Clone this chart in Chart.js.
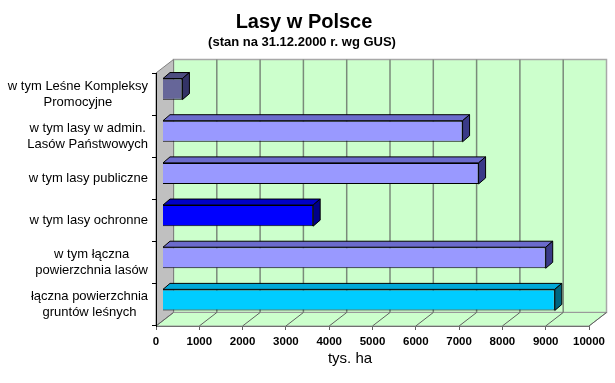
<!DOCTYPE html>
<html>
<head>
<meta charset="utf-8">
<script src="https://cdn.jsdelivr.net/npm/chart.js@4/dist/chart.umd.min.js"></script>
<style>
html,body{margin:0;padding:0;background:#ffffff;}
canvas{display:block;}
</style>
</head>
<body>
<canvas id="c" width="615" height="383"></canvas>
<script>
// ---- data ----
const categories = [
  ['w tym Leśne Kompleksy', 'Promocyjne'],
  ['w tym lasy w admin.', 'Lasów Państwowych'],
  ['w tym lasy publiczne'],
  ['w tym lasy ochronne'],
  ['w tym łączna', 'powierzchnia lasów'],
  ['łączna powierzchnia', 'gruntów leśnych']
];
const areaValues = [460, 6930, 7300, 3480, 8850, 9060];
const xTickLabels = ['0', '1000', '2000', '3000', '4000', '5000', '6000', '7000', '8000', '9000', '10000'];
const chartTitle = 'Lasy w Polsce';
const chartSubtitle = '(stan na 31.12.2000 r. wg GUS)';
const axisTitle = 'tys. ha';

// ---- styles ----
const barFront = ['#666699', '#9999FF', '#9999FF', '#0000FF', '#9999FF', '#00CCFF'];
const barTop   = ['#4D4D80', '#6B6BCC', '#6B6BCC', '#0000C8', '#6B6BCC', '#00A8D8'];
const barSide  = ['#333366', '#3A3A88', '#3A3A88', '#000088', '#3A3A88', '#006680'];
const FONT = "'Liberation Sans', Arial, sans-serif";
const WALL_DX = 17.5, WALL_DY = 13.5;   // depth of the 3D box
const BAR_OX = 6.5, BAR_OY = -5;        // bar front plane offset
const BAR_DX = 7, BAR_DY = 6;           // bar depth

const threeD = {
  id: 'threeD',
  beforeDraw(chart) {
    const ctx = chart.ctx, xs = chart.scales.x, a = chart.chartArea;
    const x0 = xs.getPixelForValue(0), x1 = xs.getPixelForValue(10000);
    const t = a.top, b = a.bottom;
    ctx.save();
    // back wall
    ctx.fillStyle = '#CCFFCC';
    ctx.fillRect(x0 + WALL_DX, t - WALL_DY, x1 - x0, b - t);
    ctx.strokeStyle = '#A8A8A8';
    ctx.lineWidth = 1.5;
    ctx.strokeRect(x0 + WALL_DX, t - WALL_DY, x1 - x0, b - t);
    // left wall
    ctx.beginPath();
    ctx.moveTo(x0, t); ctx.lineTo(x0 + WALL_DX, t - WALL_DY);
    ctx.lineTo(x0 + WALL_DX, b - WALL_DY); ctx.lineTo(x0, b); ctx.closePath();
    ctx.fillStyle = '#C0C0C0'; ctx.fill();
    ctx.strokeStyle = '#808080'; ctx.lineWidth = 1; ctx.stroke();
    // floor
    ctx.beginPath();
    ctx.moveTo(x0, b); ctx.lineTo(x1, b);
    ctx.lineTo(x1 + WALL_DX, b - WALL_DY); ctx.lineTo(x0 + WALL_DX, b - WALL_DY); ctx.closePath();
    ctx.fillStyle = '#CCFFCC'; ctx.fill();
    ctx.strokeStyle = '#9A9A9A'; ctx.lineWidth = 1; ctx.stroke();
    // back grid lines and floor diagonals
    const ticks = xs.ticks;
    ticks.forEach((tk) => {
      const px = xs.getPixelForValue(tk.value);
      if (tk.value > 0 && tk.value < 10000) {
        ctx.beginPath();
        ctx.moveTo(px + WALL_DX, t - WALL_DY);
        ctx.lineTo(px + WALL_DX, b - WALL_DY);
        ctx.strokeStyle = '#7A8A7A'; ctx.lineWidth = 1.5; ctx.stroke();
      }
      ctx.beginPath();
      ctx.moveTo(px, b);
      ctx.lineTo(px + WALL_DX, b - WALL_DY);
      ctx.strokeStyle = '#606060'; ctx.lineWidth = 1; ctx.stroke();
    });
    ctx.restore();
  },
  beforeDatasetsDraw(chart) {
    chart.ctx.save();
    chart.ctx.translate(BAR_OX, BAR_OY);
  },
  afterDatasetsDraw(chart) {
    const ctx = chart.ctx;
    const meta = chart.getDatasetMeta(0);
    meta.data.forEach((el, i) => {
      const p = el.getProps(['x', 'y', 'base', 'height'], true);
      const L = Math.min(p.base, p.x), R = Math.max(p.base, p.x);
      const T = p.y - p.height / 2, B = p.y + p.height / 2;
      ctx.lineWidth = 1;
      ctx.strokeStyle = '#000000';
      // top face
      ctx.beginPath();
      ctx.moveTo(L, T); ctx.lineTo(L + BAR_DX, T - BAR_DY);
      ctx.lineTo(R + BAR_DX, T - BAR_DY); ctx.lineTo(R, T); ctx.closePath();
      ctx.fillStyle = barTop[i]; ctx.fill(); ctx.stroke();
      // right face
      ctx.beginPath();
      ctx.moveTo(R, T); ctx.lineTo(R + BAR_DX, T - BAR_DY);
      ctx.lineTo(R + BAR_DX, B - BAR_DY); ctx.lineTo(R, B); ctx.closePath();
      ctx.fillStyle = barSide[i]; ctx.fill(); ctx.stroke();
    });
    ctx.restore();
  },
  afterDraw(chart) {
    const ctx = chart.ctx, ys = chart.scales.y;
    ctx.save();
    ctx.fillStyle = '#000000';
    // titles
    ctx.textAlign = 'center';
    ctx.textBaseline = 'alphabetic';
    ctx.font = 'bold 20px ' + FONT;
    ctx.fillText(chartTitle, 304, 28);
    ctx.font = 'bold 13px ' + FONT;
    ctx.fillText(chartSubtitle, 302, 46);
    ctx.font = '15px ' + FONT;
    ctx.fillText(axisTitle, 350, 363);
    // category labels: block right-aligned to axis, lines centred in block
    ctx.font = '13px ' + FONT;
    ctx.textBaseline = 'middle';
    const rightEdge = 148, lh = 16;
    chart.data.labels.forEach((lab, i) => {
      const lines = Array.isArray(lab) ? lab : [lab];
      const w = Math.max(...lines.map(s => ctx.measureText(s).width));
      const cx = rightEdge - w / 2;
      const cy = ys.getPixelForValue(i);
      lines.forEach((s, j) => {
        ctx.fillText(s, cx, cy + (j - (lines.length - 1) / 2) * lh);
      });
    });
    ctx.restore();
  }
};

new Chart(document.getElementById('c'), {
  type: 'bar',
  data: {
    labels: categories,
    datasets: [{
      label: 'tys. ha',
      data: areaValues,
      backgroundColor: barFront,
      borderColor: '#000000',
      borderWidth: 1,
      categoryPercentage: 1,
      barPercentage: 0.5,
      clip: false
    }]
  },
  options: {
    indexAxis: 'y',
    responsive: false,
    devicePixelRatio: 1,
    animation: false,
    layout: { padding: { left: 0, right: 26, top: 73, bottom: 0 } },
    plugins: {
      legend: { display: false },
      title: { display: false },
      tooltip: { enabled: false }
    },
    scales: {
      x: {
        type: 'linear',
        min: 0,
        max: 10000,
        afterFit(s) { s.height = 57; },
        ticks: {
          stepSize: 1000,
          autoSkip: false,
          maxRotation: 0,
          padding: 5,
          color: '#000000',
          font: { family: FONT, size: 11.5, weight: 'bold' },
          callback: (v, i) => xTickLabels[i] !== undefined ? xTickLabels[i] : String(v)
        },
        grid: { drawOnChartArea: false, drawTicks: true, tickLength: 4, color: '#606060' },
        border: { display: true, color: '#707070', width: 1 }
      },
      y: {
        type: 'category',
        afterFit(s) { s.width = 156; },
        ticks: { display: false },
        grid: { drawOnChartArea: false, drawTicks: true, tickLength: 4, color: '#000000', offset: true },
        border: { display: true, color: '#000000', width: 1 }
      }
    }
  },
  plugins: [threeD]
});
</script>
</body>
</html>
